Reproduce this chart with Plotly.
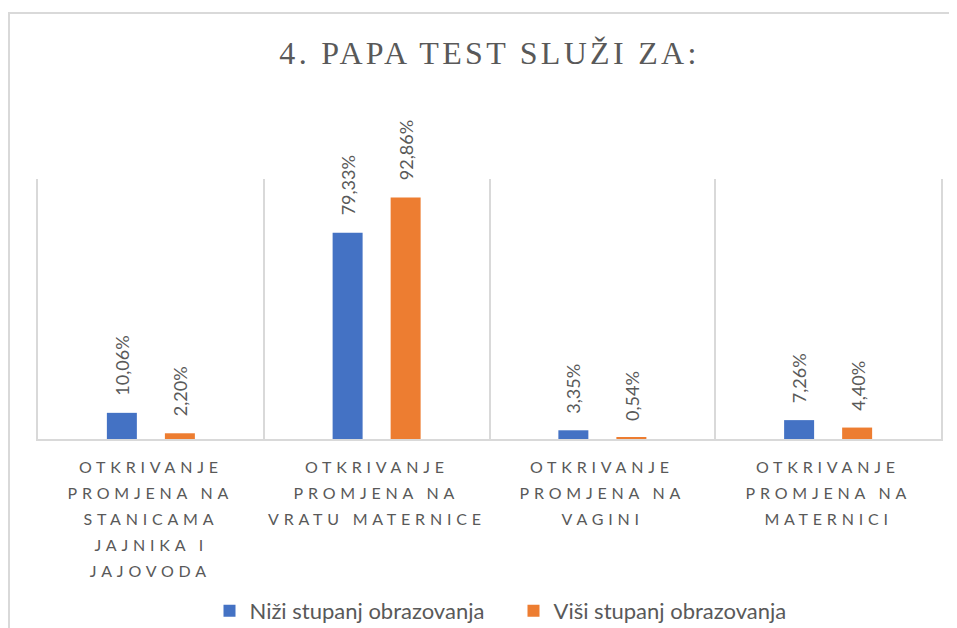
import plotly.graph_objects as go

categories = [
    "OTKRIVANJE<br>PROMJENA NA<br>STANICAMA<br>JAJNIKA I<br>JAJOVODA",
    "OTKRIVANJE<br>PROMJENA NA<br>VRATU MATERNICE",
    "OTKRIVANJE<br>PROMJENA NA<br>VAGINI",
    "OTKRIVANJE<br>PROMJENA NA<br>MATERNICI",
]
cat_keys = ["c1", "c2", "c3", "c4"]
nizi = [10.06, 79.33, 3.35, 7.26]
visi = [2.20, 92.86, 0.54, 4.40]
series_names = ["Niži stupanj obrazovanja", "Viši stupanj obrazovanja"]
title_text = "4. PAPA TEST SLUŽI ZA:"

TXT = "#595959"
GRID = "#d9d9d9"
COLORS = ["#4472C4", "#ED7D31"]

def fmt(v):
    return f"{v:.2f}".replace(".", ",") + "%"

# page body has an 8px margin; figure coords = screen - 8
# figure is a bit taller than the window so the legend never pushes the margins
W, H = 957, 645
L, R, T = 30, 24, 171
PLOT_BOTTOM = 431
B = H - PLOT_BOTTOM
pw, ph = W - L - R, H - T - B
BARGAP = 0.486
catw = pw / len(cat_keys)
slot = (1 - BARGAP) * catw / 2

fig = go.Figure()
annotations = []
for si, (name, vals) in enumerate(zip(series_names, [nizi, visi])):
    fig.add_trace(go.Bar(
        x=cat_keys, y=vals, name=name,
        marker=dict(color=COLORS[si], line=dict(width=0)),
    ))
    xs = (si - 0.5) * slot
    for k, v in zip(cat_keys, vals):
        annotations.append(dict(
            x=k, xref="x", y=v, yref="y", xanchor="center", yanchor="bottom",
            xshift=xs, yshift=15, textangle=-90, text=fmt(v), showarrow=False,
            font=dict(family="Lato", size=18, color=TXT),
        ))

for k, lab in zip(cat_keys, categories):
    for j, line in enumerate(lab.split("<br>")):
        annotations.append(dict(
            x=k, xref="x", y=0, yref="paper", yanchor="middle",
            yshift=-(27 + j * 26.2), text=line, showarrow=False,
            font=dict(family="Lato", size=16, color=TXT),
        ))

fig.update_layout(
    width=W, height=H,
    margin=dict(l=L, r=R, t=T, b=B),
    paper_bgcolor="white", plot_bgcolor="white",
    barmode="group", bargap=BARGAP, bargroupgap=0.483,
    title=dict(text=title_text, x=0.5, xref="paper", xanchor="center",
               y=(H - 45) / H, yanchor="middle",
               font=dict(family="Liberation Serif", size=32, color=TXT)),
    xaxis=dict(tickson="boundaries", showgrid=True, gridcolor=GRID, gridwidth=1.5,
               showticklabels=False, ticks="", showline=True, linecolor=GRID, linewidth=1.5,
               range=[-0.5, 3.5]),
    yaxis=dict(range=[0, 100], showgrid=False, showticklabels=False, zeroline=False,
               showline=True, linecolor=GRID, linewidth=1.5, mirror=True, ticks=""),
    showlegend=True,
    legend=dict(orientation="h", x=0.5 + 24 / pw, xanchor="center", y=-(603 - PLOT_BOTTOM) / ph,
                yanchor="middle", entrywidth=259, entrywidthmode="pixels",
                font=dict(family="Lato", size=22, color=TXT)),
    annotations=annotations,
    shapes=[dict(type="rect", xref="paper", yref="paper",
                 x0=(1 - L) / pw, x1=(W + 20 - L) / pw,
                 y0=-(H + 20 - PLOT_BOTTOM) / ph, y1=(PLOT_BOTTOM - 5) / ph,
                 line=dict(color=GRID, width=2), fillcolor="rgba(0,0,0,0)", layer="below")],
)

css = ".gtitle{letter-spacing:3.3px}.annotation-text{letter-spacing:4.8px}"
post = ("var s=document.createElement('style');s.innerHTML='" + css + "';"
        "document.head.appendChild(s);"
        "document.querySelectorAll('.annotation-text').forEach(function(t){"
        "if(/%$/.test(t.textContent)){t.style.letterSpacing='0px';}});")
fig.write_html("out.html", post_script=post)
